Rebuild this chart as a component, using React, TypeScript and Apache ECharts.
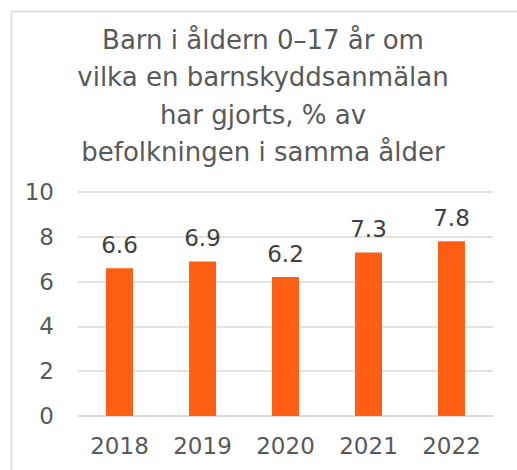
import React, { useEffect, useRef } from "react";
import * as echarts from "echarts";

const categories = ["2018", "2019", "2020", "2021", "2022"];
const values = [6.6, 6.9, 6.2, 7.3, 7.8];
const titleLines = [
  "Barn i åldern 0–17 år om",
  "vilka en barnskyddsanmälan",
  "har gjorts, % av",
  "befolkningen i samma ålder",
];

export default function App() {
  const ref = useRef<HTMLDivElement>(null);
  useEffect(() => {
    document.body.style.margin = "0";
    const chart = echarts.init(ref.current!, null, { renderer: "svg" });
    const font = "'DejaVu Sans', Verdana, sans-serif";
    chart.setOption({
      animation: false,
      backgroundColor: "#ffffff",
      graphic: [
        {
          type: "rect",
          shape: { x: 11.5, y: 11.5, width: 600, height: 600 },
          style: { fill: "none", stroke: "#D9D9D9", lineWidth: 1.5 },
          silent: true,
        },
      ],
      title: {
        text: titleLines.join("\n"),
        left: 263,
        textAlign: "center",
        top: 21,
        padding: 0,
        textStyle: {
          fontFamily: font,
          fontSize: 26,
          fontWeight: "normal",
          color: "#595959",
          lineHeight: 37.5,
        },
      },
      grid: { left: 78, right: 24, top: 192, bottom: 54 },
      xAxis: {
        type: "category",
        data: categories,
        axisLine: { show: true, lineStyle: { color: "#D9D9D9", width: 1.5 } },
        axisTick: { show: false },
        axisLabel: {
          fontFamily: font,
          fontSize: 23,
          color: "#595959",
          margin: 18,
        },
      },
      yAxis: {
        type: "value",
        min: 0,
        max: 10,
        interval: 2,
        axisLine: { show: false },
        axisTick: { show: false },
        splitLine: { lineStyle: { color: "#D9D9D9", width: 1.5 } },
        axisLabel: {
          fontFamily: font,
          fontSize: 23,
          color: "#595959",
          margin: 24,
          padding: [6, 0, 0, 0],
        },
      },
      series: [
        {
          type: "bar",
          data: values,
          barWidth: 27,
          itemStyle: { color: "#FF5F15" },
          label: {
            show: true,
            position: "top",
            distance: 12,
            fontFamily: font,
            fontSize: 23,
            color: "#404040",
          },
        },
      ],
    });
    return () => chart.dispose();
  }, []);
  return <div ref={ref} style={{ width: 517, height: 470 }} />;
}
